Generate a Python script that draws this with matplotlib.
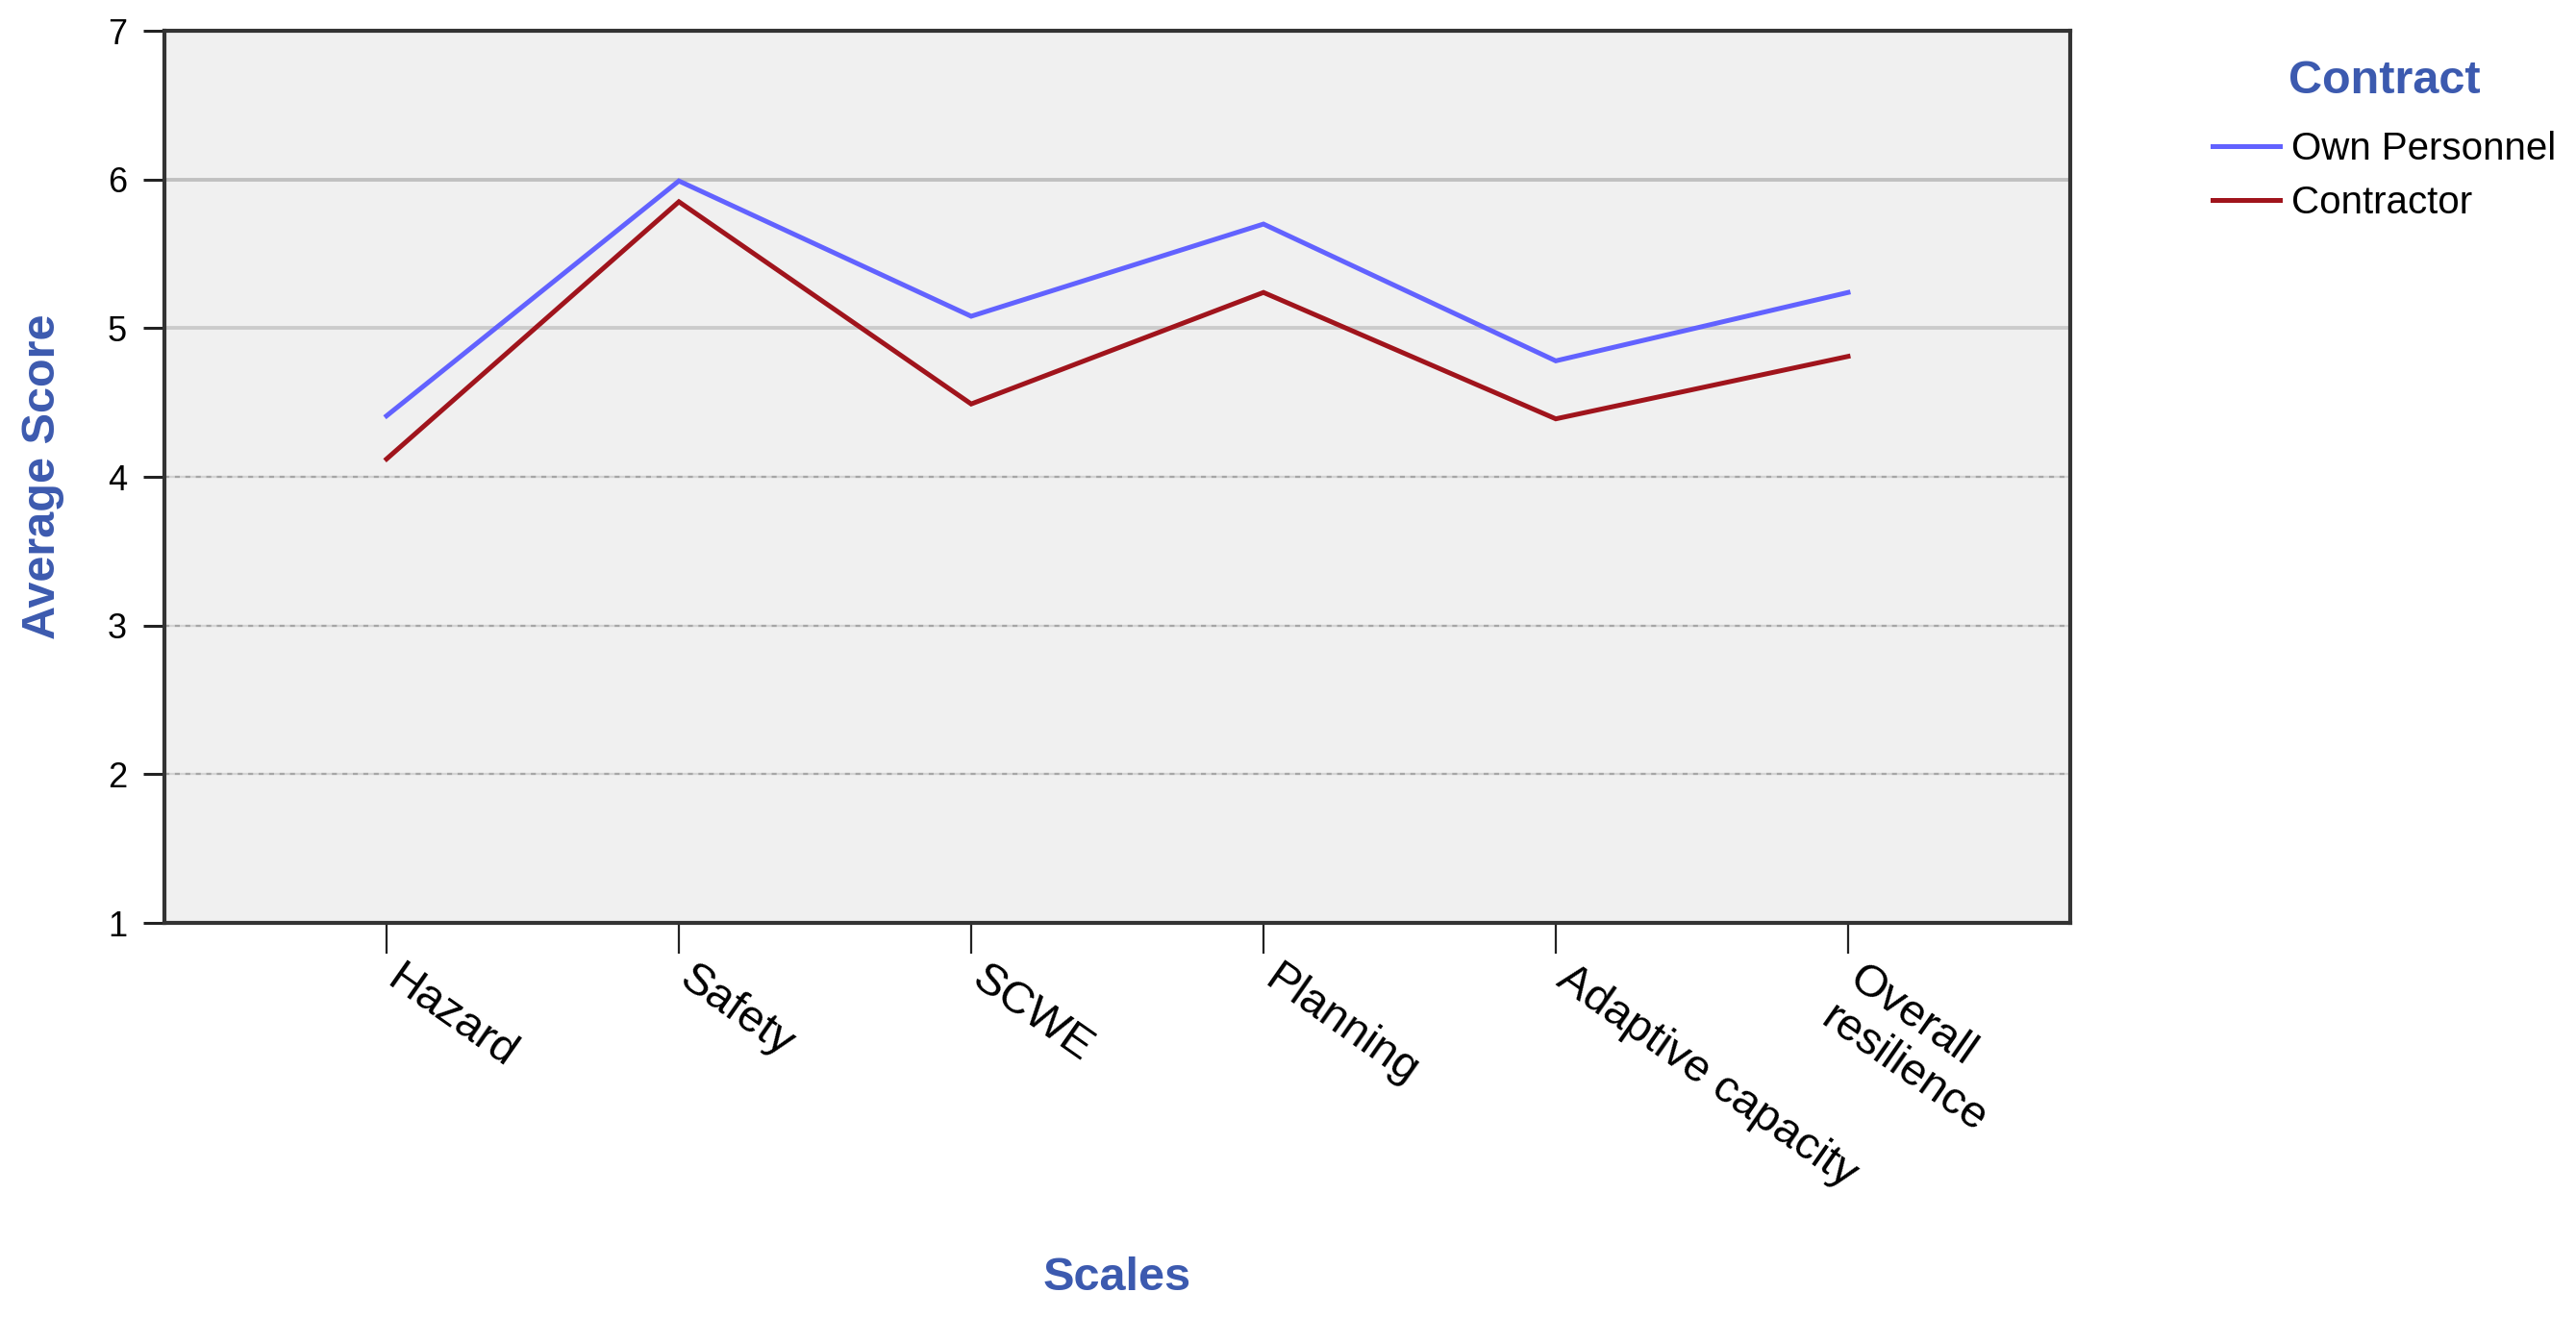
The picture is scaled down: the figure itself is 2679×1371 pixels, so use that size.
import matplotlib
matplotlib.use('Agg')
import matplotlib.pyplot as plt
import matplotlib.transforms as mtransforms
import numpy as np

categories = ["Hazard", "Safety", "SCWE", "Planning", "Adaptive capacity", "Overall\nresilience"]
own_personnel = [4.41, 5.99, 5.08, 5.70, 4.78, 5.24]
contractor = [4.12, 5.85, 4.49, 5.24, 4.39, 4.81]
y_ticks = [1, 2, 3, 4, 5, 6, 7]
dashed_grid = [2, 3, 4]
solid_grid = [5, 6]
series_names = ["Own Personnel", "Contractor"]

plt.rcParams['font.family'] = ['Liberation Sans', 'DejaVu Sans']

W, H = 2679, 1371
fig = plt.figure(figsize=(W / 100, H / 100), dpi=100)
ax = fig.add_axes([171 / W, 1 - 960 / H, (2153 - 171) / W, (960 - 32) / H])
ax.set_facecolor('#f0f0f0')
x = np.arange(len(categories))

for v in dashed_grid:
    ax.axhline(v, color='#d4d4d4', lw=1.6, zorder=1)
    ax.axhline(v, color='#a6a6a6', lw=1.6, ls=(0, (2.3, 2.6)), zorder=1.1)
for v, c in zip(solid_grid, ['#cbcbcb', '#c0c0c0']):
    ax.axhline(v, color=c, lw=2.8, zorder=1)

l1, = ax.plot(x, own_personnel, color='#6262ff', lw=3.6, label=series_names[0],
              zorder=3, solid_joinstyle='miter')
l2, = ax.plot(x, contractor, color='#a0141c', lw=3.6, label=series_names[1],
              zorder=3, solid_joinstyle='miter')

ax.set_xlim(-0.76, 5.76)
ax.set_ylim(1, 7)
ax.set_yticks(y_ticks)
ax.set_yticklabels([str(v) for v in y_ticks], fontsize=26)
ax.set_xticks(x)
ax.set_xticklabels([''] * len(categories))

# rotated category labels, anchored just below each tick mark
base = ax.get_xaxis_transform()
offset = mtransforms.ScaledTranslation(18 / 100, -36 / 100, fig.dpi_scale_trans)
for xi, name in zip(x, categories):
    ax.text(xi, 0, name, transform=base + offset, rotation=-35,
            ha='left', va='top', rotation_mode='anchor', multialignment='left',
            fontsize=34, color='black', clip_on=False)

ax.tick_params(axis='x', length=23, width=1.6, color='#222222', pad=3, direction='out')
ax.tick_params(axis='y', length=16, width=2.2, color='#222222', pad=12, direction='out')

for s in ax.spines.values():
    s.set_color('#333333')
    s.set_linewidth(3)

blue = '#3C5AAF'
ax.set_ylabel('Average Score', fontsize=35, fontweight='bold', color=blue, va='center')
ax.yaxis.set_label_coords(-126 / 1982, 0.5)
ax.set_xlabel('Scales', fontsize=35, fontweight='bold', color=blue, va='center')
ax.xaxis.set_label_coords(0.5, -369 / 928)

leg = fig.legend(handles=[l1, l2], title='Contract', loc='upper left',
                 bbox_to_anchor=(2301 / W, 1 - 62 / H), frameon=False, fontsize=29,
                 handlelength=1.74, handletextpad=0.3, labelspacing=0.44,
                 borderpad=0, borderaxespad=0)
leg.get_title().set_fontweight('bold')
leg.get_title().set_color(blue)
leg.get_title().set_fontsize(35)
leg._legend_box.sep = 21

fig.savefig('out.png', dpi=100)
